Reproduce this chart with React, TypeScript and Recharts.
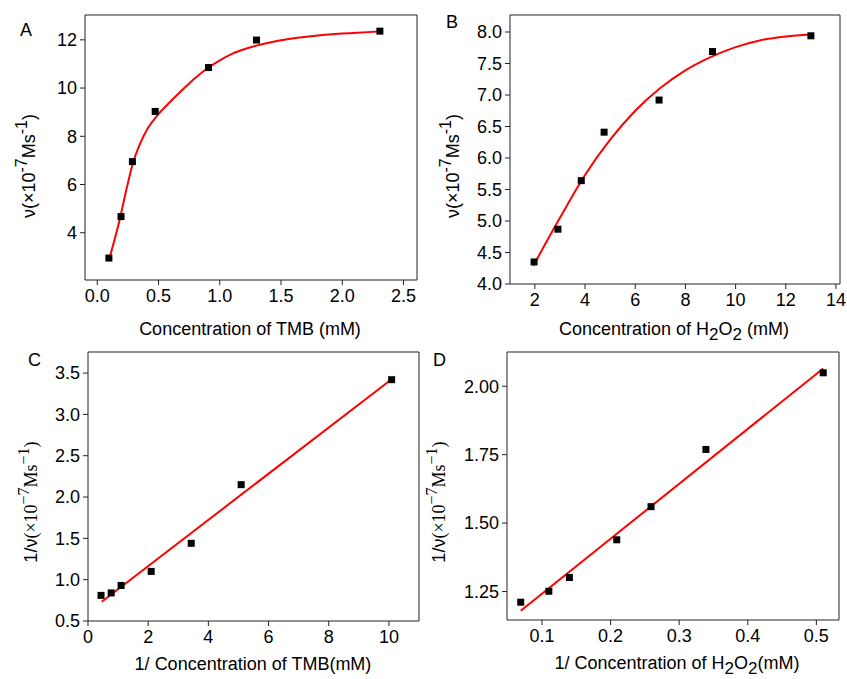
import React from 'react';
import { ComposedChart, Line, Scatter, XAxis, YAxis } from 'recharts';

// Four Michaelis–Menten / Lineweaver–Burk panels (A–D).
// Values.

// A: rate vs TMB concentration
const tmbConc = [0.095, 0.194, 0.287, 0.473, 0.908, 1.3, 2.307];
const tmbRate = [2.95, 4.67, 6.95, 9.03, 10.85, 11.99, 12.36];
const tmbFitConc = [0.1, 0.183, 0.238, 0.292, 0.347, 0.416, 0.498, 0.6, 0.7, 0.8, 0.9, 1.0, 1.1, 1.2, 1.3, 1.4, 1.5, 1.65, 1.8, 2.0, 2.3];
const tmbFitRate = [2.95, 4.54, 5.79, 6.9, 7.66, 8.36, 8.91, 9.45, 9.95, 10.42, 10.82, 11.15, 11.42, 11.61, 11.76, 11.88, 11.98, 12.1, 12.18, 12.26, 12.35];

// B: rate vs H2O2 concentration
const h2o2Conc = [1.97, 2.92, 3.85, 4.76, 6.95, 9.08, 13.0];
const h2o2Rate = [4.35, 4.87, 5.64, 6.41, 6.92, 7.69, 7.94];
const h2o2FitConc = [1.94, 3, 4, 5, 6, 7, 8, 9, 10, 11, 12, 13.0];
const h2o2FitRate = [4.29, 5.05, 5.73, 6.29, 6.75, 7.11, 7.39, 7.6, 7.76, 7.87, 7.93, 7.96];

// C: double reciprocal, TMB
const tmbInvConc = [0.433, 0.77, 1.1, 2.1, 3.43, 5.09, 10.09];
const tmbInvRate = [0.81, 0.84, 0.93, 1.1, 1.44, 2.15, 3.42];
const tmbLineX = [0.457, 10.07];
const tmbLineY = [0.733, 3.42];

// D: double reciprocal, H2O2
const h2o2InvConc = [0.069, 0.11, 0.14, 0.209, 0.259, 0.339, 0.51];
const h2o2InvRate = [1.211, 1.251, 1.301, 1.439, 1.56, 1.769, 2.049];
const h2o2LineX = [0.069, 0.51];
const h2o2LineY = [1.18, 2.065];

const SANS = '"Liberation Sans", Arial, sans-serif';
const SERIF = '"Liberation Serif", "Times New Roman", serif';
const FS = 18;

type Pt = { x: number; y: number };
const zip = (xs: number[], ys: number[]): Pt[] => xs.map((x, i) => ({ x, y: ys[i] }));

const square = (p: any) => <rect x={p.cx - 3.5} y={p.cy - 3.5} width={7} height={7} fill="#000" />;
const nothing = () => <g />;

function RateTitle({ x, y, recip }: { x: number; y: number; recip?: boolean }) {
  const ff = recip ? SERIF : SANS;
  return (
    <text x={x} y={y} transform={`rotate(-90 ${x} ${y})`} textAnchor="middle" fontSize={FS} fill="#000" fontFamily={SANS}>
      {recip ? '1/ν' : 'ν'}
      <tspan fontFamily={ff}>(×10</tspan>
      <tspan dy={-8} fontSize={16} fontFamily={ff}>{recip ? '−7' : '-7'}</tspan>
      <tspan dy={8} fontFamily={ff}>Ms</tspan>
      <tspan dy={-8} fontSize={16} fontFamily={ff}>{recip ? '−1' : '-1'}</tspan>
      <tspan dy={8} fontFamily={ff}>)</tspan>
    </text>
  );
}

function ConcTitle({ x, y, prefix, h2o2, gap }: { x: number; y: number; prefix?: string; h2o2?: boolean; gap?: boolean }) {
  return (
    <text x={x} y={y} textAnchor="middle" fontSize={FS} fill="#000" fontFamily={SANS}>
      {prefix ?? ''}Concentration of {h2o2 ? (
        <>
          H<tspan dy={5} fontSize={17}>2</tspan><tspan dy={-5}>O</tspan><tspan dy={5} fontSize={17}>2</tspan>
          <tspan dy={-5}>{gap ? ' (mM)' : '(mM)'}</tspan>
        </>
      ) : gap ? 'TMB (mM)' : 'TMB(mM)'}
    </text>
  );
}

type PanelProps = {
  left: number;
  top: number;
  width: number;
  height: number;
  margin: { top: number; right: number; bottom: number; left: number };
  xDomain: [number, number];
  yDomain: [number, number];
  xTicks: number[];
  yTicks: number[];
  topTicks: number[];
  rightTicks: number[];
  xFmt: (v: number) => string;
  yFmt: (v: number) => string;
  points: Pt[];
  fit: Pt[];
  curve: 'monotone' | 'linear';
  xTitle: React.ReactNode;
  yTitle: React.ReactNode;
};

function Panel(p: PanelProps) {
  const axisColor = '#222';
  return (
    <div style={{ position: 'absolute', left: p.left, top: p.top }}>
      <ComposedChart width={p.width} height={p.height} margin={p.margin}>
        <XAxis
          xAxisId="b"
          type="number"
          dataKey="x"
          domain={p.xDomain}
          allowDataOverflow
          ticks={p.xTicks}
          interval={0}
          tickFormatter={p.xFmt}
          tick={{ fill: '#000', fontSize: FS }}
          tickSize={5}
          tickMargin={4}
          height={40}
          stroke={axisColor}
          label={{ content: () => p.xTitle }}
        />
        <XAxis
          xAxisId="t"
          orientation="top"
          type="number"
          dataKey="x"
          domain={p.xDomain}
          allowDataOverflow
          ticks={p.topTicks}
          interval={0}
          mirror
          tick={false}
          tickSize={4}
          height={1}
          stroke={axisColor}
        />
        <YAxis
          yAxisId="l"
          type="number"
          dataKey="y"
          domain={p.yDomain}
          allowDataOverflow
          ticks={p.yTicks}
          interval={0}
          tickFormatter={p.yFmt}
          tick={{ fill: '#000', fontSize: FS }}
          tickSize={5}
          tickMargin={3}
          width={50}
          stroke={axisColor}
          label={{ content: () => p.yTitle }}
        />
        <YAxis
          yAxisId="r"
          orientation="right"
          type="number"
          dataKey="y"
          domain={p.yDomain}
          allowDataOverflow
          ticks={p.rightTicks}
          interval={0}
          mirror
          tick={false}
          tickSize={4}
          width={1}
          stroke={axisColor}
        />
        {/* binds the frame axes so they are drawn */}
        <Scatter xAxisId="t" yAxisId="r" data={p.points} shape={nothing} isAnimationActive={false} />
        <Scatter xAxisId="b" yAxisId="l" data={p.points} shape={square} isAnimationActive={false} />
        <Line
          xAxisId="b"
          yAxisId="l"
          data={p.fit}
          dataKey="y"
          type={p.curve}
          stroke="#ff0000"
          strokeWidth={2}
          dot={false}
          activeDot={false}
          isAnimationActive={false}
        />
      </ComposedChart>
    </div>
  );
}

const range = (a: number, b: number, s: number) => {
  const out: number[] = [];
  for (let v = a; v <= b + 1e-9; v += s) out.push(Math.round(v * 1000) / 1000);
  return out;
};

const letter = (ch: string, left: number, top: number) => (
  <div style={{ position: 'absolute', left, top, fontSize: FS, lineHeight: 1, color: '#000' }}>{ch}</div>
);

export default function App() {
  return (
    <div style={{ position: 'absolute', left: 0, top: 0, width: 847, height: 679, background: '#fff', fontFamily: SANS }}>
      <Panel
        left={0}
        top={0}
        width={423}
        height={345}
        margin={{ top: 15, right: 6, bottom: 25, left: 35 }}
        xDomain={[-0.1, 2.61]}
        yDomain={[2.04, 13.03]}
        xTicks={[0, 0.5, 1, 1.5, 2, 2.5]}
        yTicks={[4, 6, 8, 10, 12]}
        topTicks={range(0, 2.5, 0.25)}
        rightTicks={range(3, 12, 1)}
        xFmt={(v) => v.toFixed(1)}
        yFmt={(v) => String(v)}
        points={zip(tmbConc, tmbRate)}
        fit={zip(tmbFitConc, tmbFitRate)}
        curve="monotone"
        xTitle={<ConcTitle x={250} y={335} gap />}
        yTitle={<RateTitle x={35} y={166} />}
      />
      <Panel
        left={423}
        top={0}
        width={424}
        height={345}
        margin={{ top: 15, right: 7, bottom: 21, left: 37 }}
        xDomain={[1.01, 14.16]}
        yDomain={[4, 8.27]}
        xTicks={[2, 4, 6, 8, 10, 12, 14]}
        yTicks={range(4, 8, 0.5)}
        topTicks={range(2, 14, 1)}
        rightTicks={range(4, 8, 0.25)}
        xFmt={(v) => String(v)}
        yFmt={(v) => v.toFixed(1)}
        points={zip(h2o2Conc, h2o2Rate)}
        fit={zip(h2o2FitConc, h2o2FitRate)}
        curve="monotone"
        xTitle={<ConcTitle x={251} y={335} h2o2 gap />}
        yTitle={<RateTitle x={36} y={166} />}
      />
      <Panel
        left={0}
        top={340}
        width={423}
        height={339}
        margin={{ top: 12, right: 4, bottom: 18, left: 38 }}
        xDomain={[0, 11]}
        yDomain={[0.5, 3.755]}
        xTicks={[0, 2, 4, 6, 8, 10]}
        yTicks={range(0.5, 3.5, 0.5)}
        topTicks={range(1, 10, 1)}
        rightTicks={range(0.75, 3.5, 0.25)}
        xFmt={(v) => String(v)}
        yFmt={(v) => v.toFixed(1)}
        points={zip(tmbInvConc, tmbInvRate)}
        fit={zip(tmbLineX, tmbLineY)}
        curve="linear"
        xTitle={<ConcTitle x={253} y={330} prefix="1/ " />}
        yTitle={<RateTitle x={37} y={162} recip />}
      />
      <Panel
        left={423}
        top={340}
        width={424}
        height={339}
        margin={{ top: 12, right: 8, bottom: 19, left: 34 }}
        xDomain={[0.049, 0.533]}
        yDomain={[1.146, 2.125]}
        xTicks={[0.1, 0.2, 0.3, 0.4, 0.5]}
        yTicks={[1.25, 1.5, 1.75, 2.0]}
        topTicks={range(0.1, 0.5, 0.05)}
        rightTicks={range(1.25, 2.0, 0.125)}
        xFmt={(v) => v.toFixed(1)}
        yFmt={(v) => v.toFixed(2)}
        points={zip(h2o2InvConc, h2o2InvRate)}
        fit={zip(h2o2LineX, h2o2LineY)}
        curve="linear"
        xTitle={<ConcTitle x={254} y={329} prefix="1/ " h2o2 />}
        yTitle={<RateTitle x={22} y={162} recip />}
      />
      {letter('A', 20, 21)}
      {letter('B', 446, 13)}
      {letter('C', 28, 351)}
      {letter('D', 433, 351)}
    </div>
  );
}
